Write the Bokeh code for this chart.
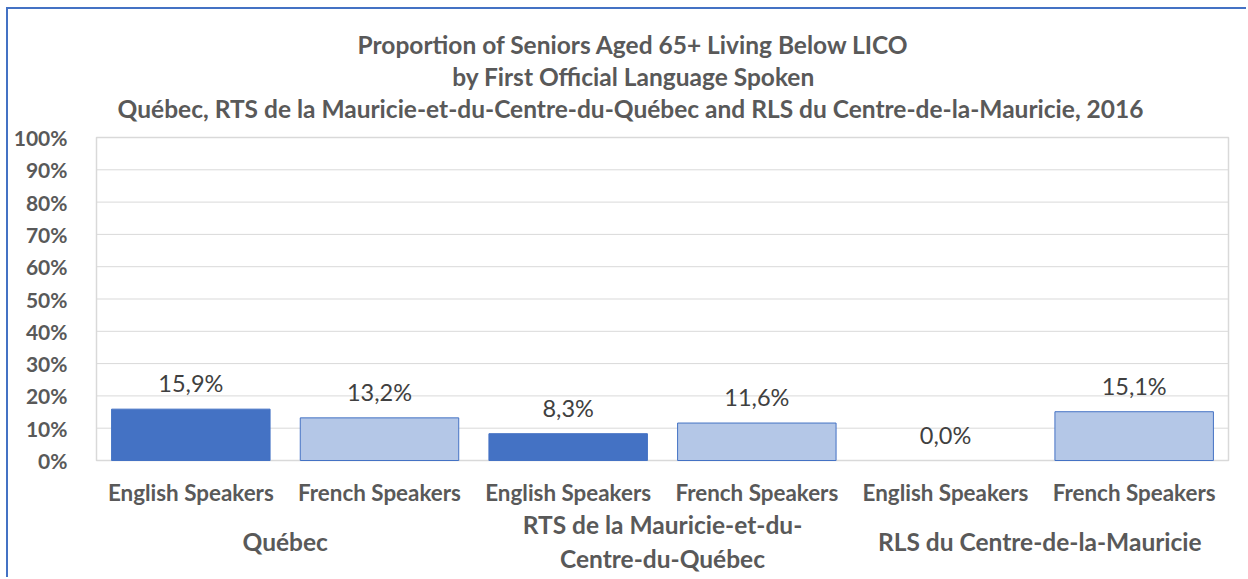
from bokeh.plotting import figure
from bokeh.models import FactorRange, Range1d, NumeralTickFormatter, FixedTicker, ColumnDataSource
from bokeh.core.properties import value
from bokeh.embed import file_html
from bokeh.resources import INLINE

# ---- data ----
regions = ["Québec", "RTS de la Mauricie-et-du-Centre-du-Québec", "RLS du Centre-de-la-Mauricie"]
region_labels = ["Québec", "RTS de la Mauricie-et-du-\nCentre-du-Québec", "RLS du Centre-de-la-Mauricie"]
speakers = ["English Speakers", "French Speakers"]
english = [0.159, 0.083, 0.000]
french = [0.132, 0.116, 0.151]
title_lines = [
    "Proportion of Seniors Aged 65+ Living Below LICO",
    "by First Official Language Spoken",
    "Québec, RTS de la Mauricie-et-du-Centre-du-Québec  and RLS du Centre-de-la-Mauricie, 2016",
]
y_ticks = [0, 0.1, 0.2, 0.3, 0.4, 0.5, 0.6, 0.7, 0.8, 0.9, 1.0]

FONT = "Lato"
AXIS_COL = "#595959"
EN_COL = "#4472C4"
FR_COL = "#B4C7E7"
GRID_COL = "#D9D9D9"

# ---- layout (pixels) ----
W, H = 1240, 570            # figure size (page offset 8 / 9 incl. border)
PLOT_L, PLOT_R = 96, 1228   # plot-area edges on the page
PLOT_T, PLOT_B = 137, 460
PAGE_X0, PAGE_Y0 = 8, 9
UNIT = PLOT_B - PLOT_T      # pixels per 100 %

def ypix(py):  # page pixel row -> data y
    return (PLOT_B - py) / UNIT

factors = [(r, s) for r in regions for s in speakers]
vals, fills = [], []
for i, r in enumerate(regions):
    vals += [english[i], french[i]]
    fills += [EN_COL, FR_COL]
lines = [EN_COL if v > 0 else None for v in vals]
labels = [f"{v*100:.1f}%".replace(".", ",") for v in vals]
src = ColumnDataSource(dict(x=factors, top=vals, fill=fills, line=lines, label=labels))

pad = 2 * (PAGE_X0 + W - PLOT_R) / (PLOT_R - PLOT_L)
xr = FactorRange(factors=factors, range_padding=pad, range_padding_units="percent",
                 factor_padding=0, group_padding=0)
yr = Range1d(ypix(PAGE_Y0 + H), ypix(PAGE_Y0))
frame_left = PLOT_L - (PAGE_X0 + W - PLOT_R)
p = figure(x_range=xr, y_range=yr, width=W, height=H,
           output_backend="svg", toolbar_location=None, title=None,
           min_border_left=frame_left - PAGE_X0, min_border_right=0,
           min_border_top=0, min_border_bottom=0)
p.styles = {"margin-left": "6px", "margin-top": "7px",
            "border-left": "2px solid #4472C4", "border-top": "2px solid #4472C4"}
p.outline_line_color = None
p.xgrid.visible = False
p.ygrid.visible = False
p.xaxis.visible = False

first = (factors[0][0], factors[0][1], -0.5)
last = (factors[-1][0], factors[-1][1], 0.5)

# grid lines and plot-area border
gsrc = ColumnDataSource(dict(x0=[first] * len(y_ticks), x1=[last] * len(y_ticks), y=y_ticks))
p.segment(x0="x0", x1="x1", y0="y", y1="y", source=gsrc, line_color=GRID_COL, line_width=1)
p.quad(left=[first], right=[last], bottom=[y_ticks[0]], top=[y_ticks[-1]],
       fill_color=None, line_color=GRID_COL, line_width=1.5)

# bars
p.vbar(x="x", top="top", width=0.84, source=src, fill_color="fill", line_color="line", line_width=1)

# data labels
p.text(x="x", y="top", text="label", source=src, y_offset=-26,
       text_align="center", text_baseline="middle",
       text_font=value(FONT), text_font_size=value("23.5px"), text_color="#404040")

# category labels
ssrc = ColumnDataSource(dict(x=factors, y=[ypix(492)] * len(factors), t=[f[1] for f in factors]))
p.text(x="x", y="y", text="t", source=ssrc, text_align="center", text_baseline="middle",
       text_font=value(FONT), text_font_style="bold", text_font_size=value("22.4px"),
       text_color=AXIS_COL)

rsrc = ColumnDataSource(dict(x=[(r, speakers[0], 0.5) for r in regions],
                             y=[ypix(541)] * len(regions), t=region_labels))
p.text(x="x", y="y", text="t", source=rsrc, text_align="center", text_baseline="middle",
       text_font=value(FONT), text_font_style="bold", text_font_size=value("24.5px"),
       text_color=AXIS_COL, text_line_height=1.15)

# title
tsrc = ColumnDataSource(dict(x=[(regions[1], speakers[0], 0.5)] * 3,
                             y=[ypix(44), ypix(76), ypix(108)], t=title_lines))
p.text(x="x", y="y", text="t", source=tsrc, x_offset=-29, text_align="center",
       text_baseline="middle", text_font=value(FONT), text_font_style="bold",
       text_font_size=value("24.5px"), text_color=AXIS_COL)

# y axis
p.yaxis.ticker = FixedTicker(ticks=y_ticks)
p.yaxis.formatter = NumeralTickFormatter(format="0%")
p.yaxis.axis_line_color = None
p.yaxis.major_tick_line_color = None
p.yaxis.minor_tick_line_color = None
p.yaxis.major_label_standoff = 3
p.yaxis.major_label_text_font = FONT
p.yaxis.major_label_text_font_style = "bold"
p.yaxis.major_label_text_font_size = "21px"
p.yaxis.major_label_text_color = AXIS_COL

open("out.html", "w").write(file_html(p, INLINE))
